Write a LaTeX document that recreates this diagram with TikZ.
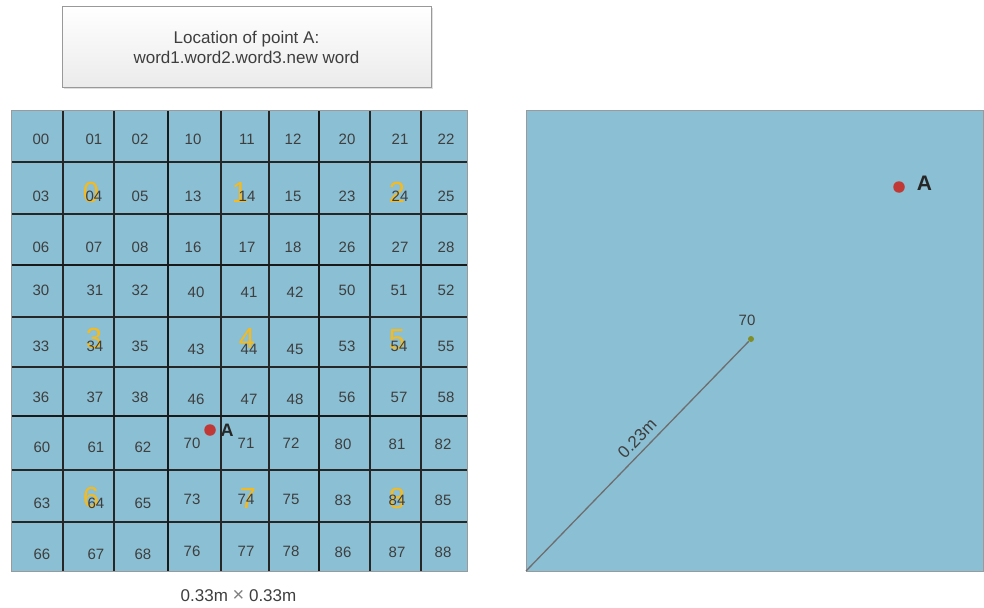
\documentclass[tikz,border=0pt]{standalone}
\usepackage{fontspec}
\setmainfont{Liberation Sans}
\usetikzlibrary{shadows}
\definecolor{cellblue}{HTML}{8BBFD3}
\definecolor{numgray}{HTML}{3E3E3E}
\definecolor{bigyellow}{RGB}{245,186,30}
\definecolor{dotred}{RGB}{192,57,55}
\definecolor{dotgreen}{RGB}{128,142,40}
\definecolor{bordergray}{HTML}{9A9A9A}
\definecolor{linegray}{HTML}{6E6E6E}
\tikzset{
  cellnum/.style={font=\fontsize{15}{18}\selectfont, text=numgray, inner sep=0pt},
  bignum/.style={font=\fontsize{29}{34}\selectfont, text=bigyellow, inner sep=0pt},
  thinline/.style={line width=1.1pt, draw=black!85},
  thickline/.style={line width=2.3pt, draw=black!90},
  outerbox/.style={line width=1pt, draw=bordergray},
  reddot/.style={circle, fill=dotred, inner sep=0pt, minimum size=11.5pt},
  greendot/.style={circle, fill=dotgreen, inner sep=0pt, minimum size=6pt},
  alabel/.style={font=\fontsize{19}{22}\selectfont\bfseries, text=black!85, inner sep=0pt},
  plainlabel/.style={font=\fontsize{15}{18}\selectfont, text=numgray, inner sep=0pt},
  topbox/.style={draw=gray!80, line width=1pt, top color=white, bottom color=gray!16,
    minimum width=369pt, minimum height=81pt, align=center, text=numgray,
    font=\fontsize{17}{20}\selectfont,
    drop shadow={shadow xshift=1.5pt, shadow yshift=-1.5pt, opacity=0.25}},
  radline/.style={line width=1.3pt, draw=linegray}
}
\begin{document}
\begin{tikzpicture}[x=1pt,y=-1pt]
\useasboundingbox (0,0) rectangle (984,607);
% top box
\node[topbox] (loc) at (246.5,47.5) {Location of point A:\\word1.word2.word3.new word};
% left grid
\fill[cellblue] (11,111) rectangle (467,571);
\foreach \x in {63,114,221,269,370,421} \draw[thinline] (\x,111) -- (\x,571);
\foreach \y in {162,214,317,367,470,522} \draw[thinline] (11,\y) -- (467,\y);
\foreach \x in {168,319} \draw[thickline] (\x,111) -- (\x,571);
\foreach \y in {265,416} \draw[thickline] (11,\y) -- (467,\y);
\draw[outerbox] (11,111) rectangle (467,571);
% big block digits
\foreach \b/\x/\y in {0/91/193,1/240/193,2/397/192,3/94/339,4/247/339,5/397/340,6/91/498,7/248/499,8/397/499}
  \node[bignum] (big\b) at (\x,\y) {\b};
% cell numbers
\foreach \b/\xa/\xb/\xc/\ya/\yb/\yc in {
 0/41/94/140/139/196/247,
 1/193/247/293/139/196/247,
 2/347/400/446/139/196/247,
 3/41/95/140/290/346/397,
 4/196/249/295/292/349/399,
 5/347/399/446/290/346/397,
 6/42/96/143/447/503/554,
 7/192/246/291/443/499/551,
 8/343/397/443/444/500/552}{
  \foreach \r/\yy in {0/\ya,1/\yb,2/\yc}{
    \foreach \c/\xx in {0/\xa,1/\xb,2/\xc}{
      \pgfmathtruncatemacro{\k}{3*\r+\c}
      \node[cellnum] (n\b\k) at (\xx,\yy) {\b\k};
    }
  }
}
% point A on grid
\node[reddot] (dotA) at (210,430) {};
\node[alabel, font=\fontsize{18}{21}\selectfont\bfseries] (labA) at (227,430) {A};
% size label
\node[font=\fontsize{17}{20}\selectfont, text=numgray, inner sep=0pt] (size) at (238.5,596)
  {0.33m {\fontsize{20}{20}\selectfont\color{gray}×} 0.33m};
% right square
\fill[cellblue] (526,111) rectangle (983,571);
\draw[outerbox] (526,111) rectangle (983,571);
\coordinate (corner) at (526,571);
\node[greendot] (p70) at (751,339) {};
\node[plainlabel] (l70) at (747,320) {70};
\draw[radline] (corner) -- (p70) node[pos=0.54, sloped, above=6pt, plainlabel, font=\fontsize{17}{20}\selectfont] (rad) {0.23m};
\node[reddot] (dotA2) at (899,187) {};
\node[alabel, font=\fontsize{21}{24}\selectfont\bfseries] (labA2) at (924.5,183) {A};
\end{tikzpicture}
\end{document}
